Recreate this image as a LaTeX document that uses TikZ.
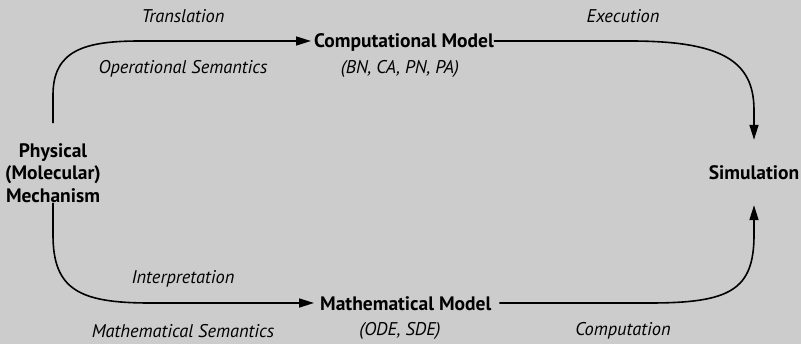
\documentclass[tikz,border=0pt]{standalone}
\usepackage{fontspec}
\setmainfont{PT Sans}
\usetikzlibrary{arrows.meta}
\definecolor{bg}{RGB}{204,204,204}
\begin{document}
\begin{tikzpicture}[x=1pt,y=-1pt,
  box/.style={font=\fontsize{19.5}{22.5}\selectfont\bfseries, inner sep=0pt, align=center},
  lbl/.style={font=\fontsize{18.4}{20}\selectfont\itshape, inner sep=0pt},
  conn/.style={line width=1.6pt, -{Triangle[length=15pt,width=9pt]}},
  plain/.style={line width=1.6pt}]
\fill[bg] (0,0) rectangle (801,344);
\useasboundingbox (0,0) rectangle (801,344);
\node[box] (phys) at (53,173) {Physical\\(Molecular)\\Mechanism};
\node[box, anchor=west] (comp) at (314,42) {Computational Model};
\node[box, anchor=west] (math) at (320,304) {Mathematical Model};
\node[box, minimum height=65pt] (sim) at (754,172.5) {Simulation};
\coordinate (tl) at (53,95);
\coordinate (tlh) at (140,41);
\coordinate (tr) at (630,41);
\coordinate (trv) at (754,110);
\coordinate (bl) at (53,235);
\coordinate (blh) at (150,303);
\coordinate (br) at (650,303);
\coordinate (brv) at (754,235);
\draw[conn] ([yshift=20pt]phys.north) -- (tl) .. controls (53,50) and (85,41) .. (tlh) -- ([xshift=-3pt]comp.west |- tlh);
\draw[conn] (comp.east |- tr) -- (tr) .. controls (720,41) and (754,60) .. (trv) -- (sim.north);
\draw[conn] (phys.south) -- (bl) .. controls (53,290) and (80,303) .. (blh) -- ([xshift=-6pt]math.west |- blh);
\draw[conn] ([xshift=8pt]math.east |- br) -- (br) .. controls (730,303) and (754,290) .. (brv) -- (sim.south);
\node[lbl] (l1) at (183,16) {Translation};
\node[lbl] (l2) at (183,69) {Operational Semantics};
\node[lbl] (l3) at (400,69) {(BN, CA, PN, PA)};
\node[lbl] (l4) at (623,16) {Execution};
\node[lbl] (l5) at (183,279) {Interpretation};
\node[lbl] (l6) at (183,331) {Mathematical Semantics};
\node[lbl] (l7) at (400,331) {(ODE, SDE)};
\node[lbl] (l8) at (623,331) {Computation};
\end{tikzpicture}
\end{document}
